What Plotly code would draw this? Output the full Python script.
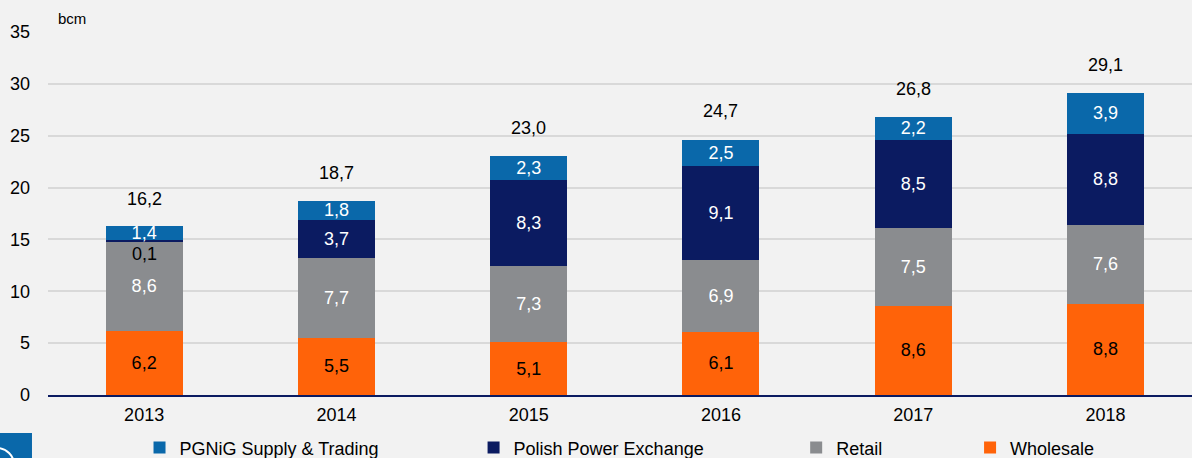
import plotly.graph_objects as go

years = ['2013', '2014', '2015', '2016', '2017', '2018']
wholesale = [6.2, 5.5, 5.1, 6.1, 8.6, 8.8]
retail = [8.6, 7.7, 7.3, 6.9, 7.5, 7.6]
power_exchange = [0.1, 3.7, 8.3, 9.1, 8.5, 8.8]
supply_trading = [1.4, 1.8, 2.3, 2.5, 2.2, 3.9]
totals = [16.2, 18.7, 23.0, 24.7, 26.8, 29.1]

FONT = 'Liberation Sans, Arial, sans-serif'
BG = '#f2f2f2'


def fmt(v):
    return f"{v:.1f}".replace('.', ',')


# series: name, values, colour, label colour, legend slot, legend x (paper)
series = [
    ('Wholesale', wholesale, '#ff6309', 'black', 'legend4', 0.806),
    ('Retail', retail, '#8a8c8f', 'white', 'legend3', 0.654),
    ('Polish Power Exchange', power_exchange, '#0b1b61', 'white', 'legend2', 0.372),
    ('PGNiG Supply & Trading', supply_trading, '#0a68aa', 'white', 'legend', 0.080),
]

fig = go.Figure()
small_labels = []
base = [0.0] * len(years)
for name, vals, color, tcol, leg, lx in series:
    texts = []
    for i, v in enumerate(vals):
        if v < 0.5:
            # too thin to hold its label, put it just below the segment
            small_labels.append((i, base[i] + v / 2, fmt(v)))
            texts.append('')
        else:
            texts.append(fmt(v))
        base[i] += v
    fig.add_trace(go.Bar(
        x=years, y=vals, name=name,
        marker=dict(color=color, line=dict(width=0)),
        text=texts, textposition='inside', insidetextanchor='middle',
        textangle=0, constraintext='none',
        textfont=dict(color=tcol, size=18, family=FONT),
        width=0.4, legend=leg,
    ))

for i, yv, txt in small_labels:
    fig.add_annotation(x=i, y=yv, text=txt, showarrow=False, yshift=-13,
                       font=dict(size=18, color='black', family=FONT))

for i, t in enumerate(totals):
    fig.add_annotation(x=i, y=t, text=fmt(t), showarrow=False, yshift=28,
                       font=dict(size=18, color='black', family=FONT))

fig.add_annotation(x=0.007, y=1.036, xref='paper', yref='paper', text='bcm',
                   showarrow=False, xanchor='left', yanchor='middle',
                   font=dict(size=15, color='black', family=FONT))

# corner of the logo, bottom left
fig.add_shape(type='rect', xref='paper', yref='paper',
              x0=-0.042, x1=-0.014, y0=-0.18, y1=-0.1047,
              fillcolor='#0a68aa', line=dict(width=0))
fig.add_shape(type='circle', xref='paper', yref='paper',
              x0=-0.0594, x1=-0.0297, y0=-0.2397, y1=-0.146,
              line=dict(color='white', width=2))

# container-anchored legends so they don't push the margins
leg_common = dict(orientation='h', yref='container', yanchor='middle', y=0.022,
                  xanchor='left', bgcolor='rgba(0,0,0,0)',
                  font=dict(size=18, color='black', family=FONT))
legends = {}
for name, vals, color, tcol, leg, lx in series:
    legends[leg] = dict(leg_common, x=lx)

fig.update_layout(
    barmode='stack',
    width=1192, height=458,
    paper_bgcolor=BG, plot_bgcolor=BG,
    margin=dict(l=48, r=0, t=32, b=63),
    font=dict(family=FONT, size=18, color='black'),
    showlegend=True,
    **legends,
    xaxis=dict(
        type='category', range=[-0.5, 5.45], showgrid=False, showline=True,
        linecolor='#0b1b61', linewidth=2, ticks='', zeroline=False,
        ticklabelstandoff=2, tickfont=dict(size=18, family=FONT),
    ),
    yaxis=dict(
        range=[0, 35], dtick=5, showgrid=True, gridcolor='#d9d9d9', gridwidth=1.5,
        zeroline=False, showline=False, ticks='', ticklabelstandoff=17,
        tickfont=dict(size=18, family=FONT),
    ),
)

fig.write_html("out.html", config={'displayModeBar': False},
               post_script="document.body.style.margin='0';document.body.style.overflow='hidden';")
